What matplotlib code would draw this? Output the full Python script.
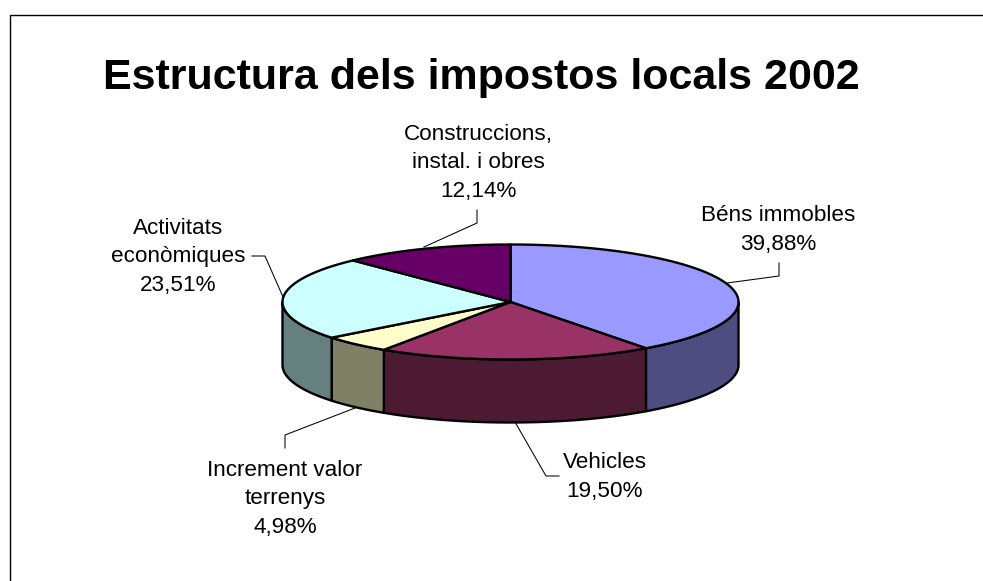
import numpy as np
import matplotlib
matplotlib.use("Agg")
import matplotlib.pyplot as plt
from matplotlib.patches import Polygon

categories = ["Béns immobles", "Vehicles", "Increment valor\nterrenys", "Activitats\neconòmiques", "Construccions,\ninstal. i obres"]
values = [39.88, 19.50, 4.98, 23.51, 12.14]
value_labels = ["39,88%", "19,50%", "4,98%", "23,51%", "12,14%"]
top_colors = ["#9999FF", "#993366", "#FFFFCC", "#CCFFFF", "#660066"]
side_colors = ["#4D4D80", "#4D1A33", "#808066", "#668080", "#330033"]
title = "Estructura dels impostos locals 2002"

plt.rcParams["font.family"] = ["Liberation Sans", "DejaVu Sans"]
W, H = 983, 581
fig = plt.figure(figsize=(W / 100, H / 100), dpi=100, facecolor="white")
ax = fig.add_axes([0, 0, 1, 1])
ax.set_xlim(0, W)
ax.set_ylim(H, 0)
ax.axis("off")

# outer frame: only left and top edges visible
ax.plot([9.5, 9.5, W], [H, 14.5, 14.5], color="black", lw=1.0, solid_joinstyle="miter")

ax.text(481.5, 89, title, ha="center", va="baseline", fontsize=31, fontweight="bold", color="black")

cx, cy, rx, ry, depth = 510.5, 302, 228, 57.5, 63
LW = 1.7


def pt(deg, dy=0.0):
    a = np.radians(deg)
    return cx + rx * np.sin(a), cy - ry * np.cos(a) + dy


edges = np.concatenate([[0], np.cumsum(values)]) / np.sum(values) * 360

# side walls (front half only)
for i in range(len(values)):
    a0, a1 = max(edges[i], 90), min(edges[i + 1], 270)
    if a1 <= a0:
        continue
    t = np.linspace(a0, a1, 80)
    xs, ys = pt(t)
    xb, yb = pt(t[::-1], depth)
    ax.add_patch(Polygon(np.r_[np.c_[xs, ys], np.c_[xb, yb]], closed=True,
                         facecolor=side_colors[i], edgecolor="black", lw=LW, joinstyle="round", zorder=2))

# top face
for i in range(len(values)):
    t = np.linspace(edges[i], edges[i + 1], 120)
    xs, ys = pt(t)
    ax.add_patch(Polygon(np.r_[[[cx, cy]], np.c_[xs, ys]], closed=True,
                         facecolor=top_colors[i], edgecolor="black", lw=LW, joinstyle="round", zorder=3))

# labels with leader lines (x centre, last-line baseline)
label_pos = [(778, 250), (605, 497), (285, 533), (178, 291), (478, 197)]
leaders = [
    [(727, 283), (779, 276), (779, 263)],
    [(515, 422), (546, 476), (559, 476)],
    [(355, 408), (285, 435), (285, 448)],
    [(283, 297), (265, 256), (252, 256)],
    [(424, 247), (477, 223), (477, 210)],
]
for cat, val, (x, y), seg in zip(categories, value_labels, label_pos, leaders):
    ax.text(x, y, cat + "\n" + val, ha="center", va="baseline", fontsize=16.2,
            linespacing=1.48, color="black", zorder=5)
    seg = np.array(seg)
    ax.plot(seg[:, 0], seg[:, 1], color="black", lw=0.75, zorder=1)

fig.savefig("out.png", dpi=100, facecolor="white")
